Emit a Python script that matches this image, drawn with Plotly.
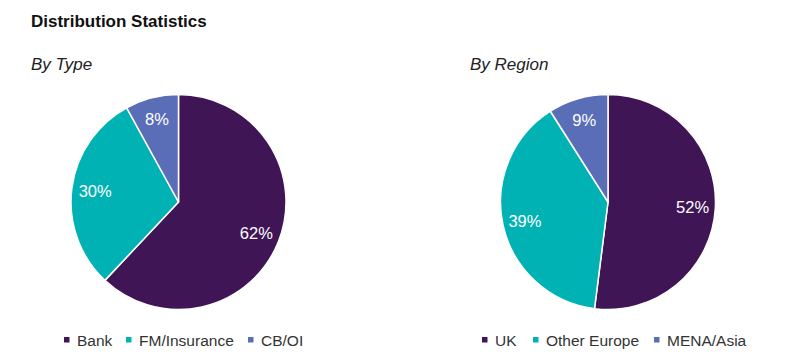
import plotly.graph_objects as go

type_labels = ["Bank", "FM/Insurance", "CB/OI"]
type_values = [62, 30, 8]
region_labels = ["UK", "Other Europe", "MENA/Asia"]
region_values = [52, 39, 9]
colors = ["#3f1556", "#00b2b4", "#5a6eb8"]

W, H = 800, 363
FONT = "Arial, Liberation Sans, sans-serif"

def dom(cx, cy, r):
    return dict(x=[(cx - r) / W, (cx + r) / W], y=[(H - cy - r) / H, (H - cy + r) / H])

fig = go.Figure()
pies = [
    (type_labels, type_values, 178.5, 0.56),
    (region_labels, region_values, 608, 0.58),
]
for labels, values, cx, hole in pies:
    d = dom(cx, 202, 107.5)
    # filled pie
    fig.add_trace(go.Pie(
        labels=labels, values=values, sort=False, direction="clockwise", rotation=0,
        marker=dict(colors=colors, line=dict(color="white", width=1.5)),
        textinfo="none", domain=d, showlegend=False, hoverinfo="label+percent",
    ))
    # transparent ring carrying the percentage labels further out
    fig.add_trace(go.Pie(
        labels=labels, values=values, sort=False, direction="clockwise", rotation=0, hole=hole,
        marker=dict(colors=["rgba(0,0,0,0)"] * len(values), line=dict(width=0)),
        texttemplate="%{percent:.0%}", textposition="inside", insidetextorientation="horizontal",
        textfont=dict(color="white", size=16.5, family=FONT),
        domain=d, showlegend=False, hoverinfo="skip",
    ))

# custom legends (small squares + labels)
legend_y = 340
legend_items = [
    (type_labels, [64, 126, 248]),
    (region_labels, [482, 533, 654]),
]
shapes, annotations = [], []
for labels, xs in legend_items:
    for lab, x0, col in zip(labels, xs, colors):
        shapes.append(dict(type="rect", xref="paper", yref="paper",
                           x0=x0 / W, x1=(x0 + 5.5) / W,
                           y0=(H - legend_y - 2.5) / H, y1=(H - legend_y + 3) / H,
                           fillcolor=col, line=dict(width=0)))
        annotations.append(dict(text=lab, x=(x0 + 10.5) / W, y=(H - legend_y) / H, xref="paper", yref="paper",
                                xanchor="left", yanchor="middle", showarrow=False,
                                font=dict(size=15.5, color="#333", family=FONT)))

annotations += [
    dict(text="<b>Distribution Statistics</b>", x=29 / W, y=(H - 22) / H, xref="paper", yref="paper",
         xanchor="left", yanchor="middle", showarrow=False, font=dict(size=17, color="#111", family=FONT)),
    dict(text="<i>By Type</i>", x=29 / W, y=(H - 64) / H, xref="paper", yref="paper",
         xanchor="left", yanchor="middle", showarrow=False, font=dict(size=17, color="#222", family=FONT)),
    dict(text="<i>By Region</i>", x=468 / W, y=(H - 64) / H, xref="paper", yref="paper",
         xanchor="left", yanchor="middle", showarrow=False, font=dict(size=17, color="#222", family=FONT)),
]

fig.update_layout(
    width=W, height=H, margin=dict(l=0, r=0, t=0, b=0),
    paper_bgcolor="white", plot_bgcolor="white",
    font=dict(family=FONT, color="#222"),
    shapes=shapes, annotations=annotations, showlegend=False,
)
fig.write_html("out.html")
